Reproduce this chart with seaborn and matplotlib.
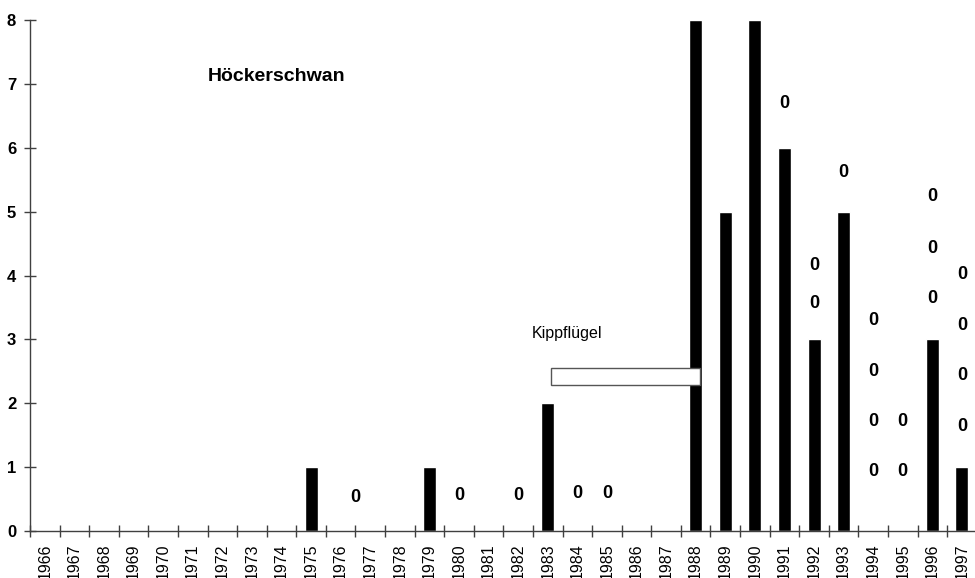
"""
Höckerschwan: Anzahl pro Jahr, 1966-1997, als Balkendiagramm.
"""
import numpy as np
import pandas as pd
import matplotlib
matplotlib.use('Agg')
import matplotlib.pyplot as plt
import seaborn as sns

# --- data ---
years = list(range(1966, 1998))
counts = [0, 0, 0, 0, 0, 0, 0, 0, 0, 1, 0, 0, 0, 1, 0, 0,
          0, 2, 0, 0, 0, 0, 8, 5, 8, 6, 3, 5, 0, 0, 3, 1]

# "0" marks: year position and height
zero_years = [1976.5, 1980, 1982, 1984, 1985,
              1991, 1992, 1992, 1993,
              1994, 1994, 1994, 1994, 1995, 1995,
              1996, 1996, 1996,
              1997, 1997, 1997, 1997]
zero_heights = [0.53, 0.55, 0.55, 0.59, 0.59,
                6.70, 4.16, 3.56, 5.62,
                3.30, 2.49, 1.71, 0.93, 1.71, 0.93,
                5.23, 4.42, 3.64,
                4.01, 3.21, 2.43, 1.64]

y_ticks = list(range(0, 9))
title_text = 'Höckerschwan'
note_text = 'Kippflügel'
# Kippflügel band: start/end in year units, bottom/top in counts
band_years = (1983.12, 1988.13)
band_range = (2.28, 2.55)

sns.set_style('white')
plt.rcParams['font.family'] = ['Liberation Sans', 'DejaVu Sans']
plt.rcParams['text.color'] = 'black'
plt.rcParams['xtick.color'] = 'black'
plt.rcParams['ytick.color'] = 'black'

df = pd.DataFrame({'year': [str(y) for y in years], 'count': counts})

fig = plt.figure(figsize=(9.75, 5.78), dpi=100)
ax = fig.add_axes([0.0308, 0.0813, 0.971, 0.884])

sns.barplot(data=df, x='year', y='count', color='black', width=0.44,
            saturation=1, ax=ax, zorder=2)

# "0" marks
for yr, h in zip(zero_years, zero_heights):
    ax.text(yr - years[0], h, '0', ha='center', va='center',
            fontsize=13, fontweight='bold', color='black', zorder=4)

# Kippflügel band (white box over the bars)
x0 = band_years[0] - years[0]
x1 = band_years[1] - years[0]
ax.add_patch(plt.Rectangle((x0, band_range[0]), x1 - x0, band_range[1] - band_range[0],
                           facecolor='white', edgecolor='#555555', linewidth=1, zorder=3))
ax.text(1982.46 - years[0], 3.1, note_text, ha='left', va='center', fontsize=11.5)
ax.text(1971.51 - years[0], 7.11, title_text, ha='left', va='center',
        fontsize=14, fontweight='bold')

ax.set_xlim(-0.5, len(years) - 0.5)
ax.set_ylim(0, 8)
ax.set_xlabel('')
ax.set_ylabel('')

ax.set_xticks(range(len(years)))
ax.set_xticklabels([str(y) for y in years], rotation=90, fontsize=11.5)
ax.set_xticks(np.arange(-0.5, len(years), 1), minor=True)
ax.tick_params(axis='x', which='both', bottom=True)
ax.tick_params(axis='x', which='major', length=0, pad=9)
ax.tick_params(axis='x', which='minor', direction='inout', length=8, width=1, color='#404040')

ax.set_yticks(y_ticks)
ax.set_yticklabels([str(t) for t in y_ticks], fontsize=12, fontweight='bold')
ax.tick_params(axis='y', left=True, direction='inout', length=8, width=1,
               color='#404040', pad=6)

for side in ['top', 'right']:
    ax.spines[side].set_visible(False)
for side in ['left', 'bottom']:
    ax.spines[side].set_color('#404040')
    ax.spines[side].set_linewidth(1)

plt.savefig('out.png', dpi=100)
plt.close()
